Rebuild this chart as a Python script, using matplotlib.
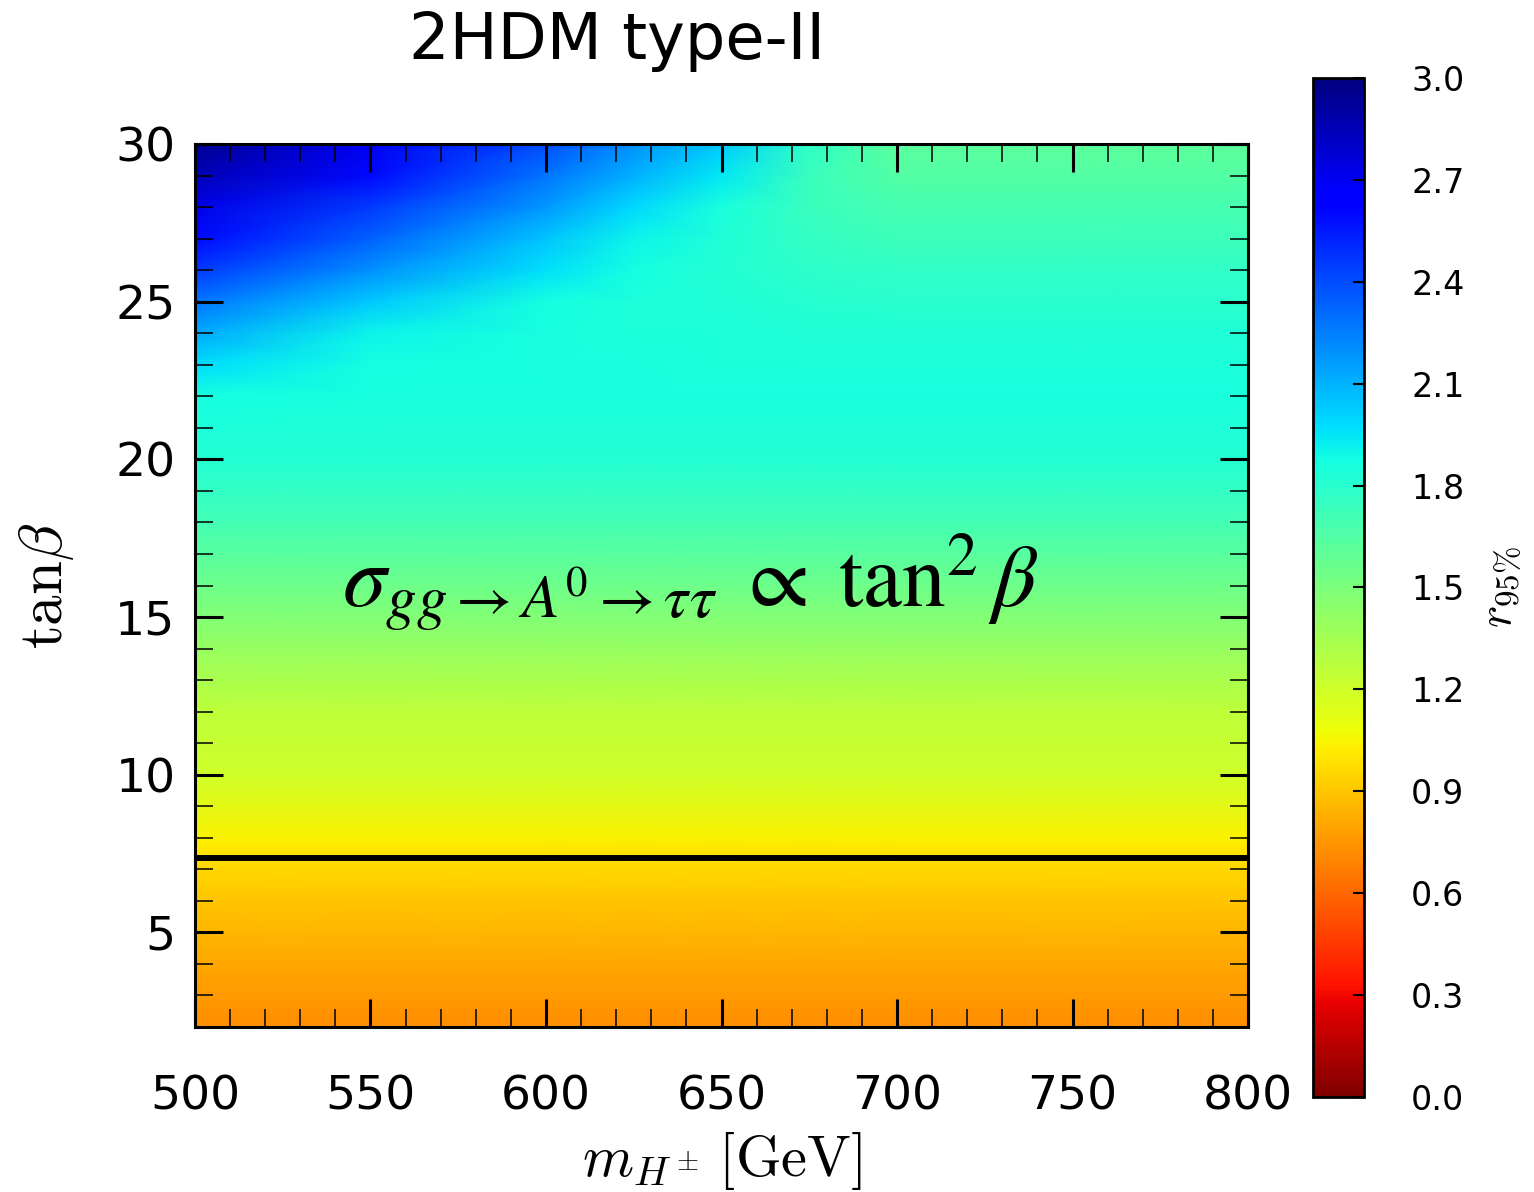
import numpy as np
import matplotlib
matplotlib.use("Agg")
import matplotlib.pyplot as plt

# grid: r_95% vs (m_H+-, tan beta)
mh_cols = [500, 550, 600, 625, 650, 675, 700, 800]
tanb_rows = [2, 4, 6, 7.35, 8, 10, 12, 14, 16, 18, 20,
             22, 23, 24, 25, 26, 27, 28, 29, 30]
r_low = [0.72, 0.80, 0.90, 0.98, 1.04, 1.20, 1.26, 1.40, 1.55, 1.70, 1.82]
r_high = [
    [1.87, 1.86, 1.86, 1.86, 1.86, 1.86, 1.86, 1.86],
    [1.98, 1.87, 1.86, 1.86, 1.85, 1.85, 1.85, 1.85],
    [2.13, 1.90, 1.86, 1.85, 1.84, 1.83, 1.83, 1.83],
    [2.28, 2.03, 1.87, 1.85, 1.83, 1.81, 1.80, 1.80],
    [2.45, 2.20, 1.96, 1.87, 1.82, 1.79, 1.77, 1.77],
    [2.60, 2.34, 2.05, 1.90, 1.83, 1.76, 1.73, 1.73],
    [2.73, 2.46, 2.17, 1.99, 1.86, 1.74, 1.69, 1.69],
    [2.85, 2.60, 2.28, 2.10, 1.94, 1.74, 1.65, 1.65],
    [2.95, 2.70, 2.40, 2.20, 2.03, 1.78, 1.62, 1.61],
]
limit_tanb = 7.35
cbar_ticks = [0.0, 0.3, 0.6, 0.9, 1.2, 1.5, 1.8, 2.1, 2.4, 2.7, 3.0]

Z = np.vstack([np.tile(np.array(r_low)[:, None], (1, len(mh_cols))),
               np.array(r_high)])
X, Y = np.meshgrid(mh_cols, tanb_rows)

fig = plt.figure(figsize=(15.34, 11.92), dpi=100)
ax = fig.add_axes([0.1271, 0.1384, 0.6865, 0.7408])
cax = fig.add_axes([0.8559, 0.0797, 0.0332, 0.8549])

mesh = ax.pcolormesh(X, Y, Z, cmap="jet_r", vmin=0, vmax=3, shading="gouraud")
ax.axhline(limit_tanb, color="black", lw=4.3)

ax.set_xlim(500, 800)
ax.set_ylim(2, 30)
ax.set_xticks(np.arange(500, 801, 50))
ax.set_xticks(np.arange(500, 801, 10), minor=True)
ax.set_yticks(np.arange(5, 31, 5))
ax.set_yticks(np.arange(2, 31, 1), minor=True)
ax.tick_params(which="both", direction="in", top=True, right=True)
ax.tick_params(which="major", length=20, width=2.2, labelsize=34)
ax.tick_params(axis="x", which="major", pad=34)
ax.tick_params(axis="y", which="major", pad=14)
ax.tick_params(which="minor", length=13, width=1.1)
for s in ax.spines.values():
    s.set_linewidth(2.2)

ax.set_xlabel(r"$m_{H^\pm}\,[\mathrm{GeV}]$", fontsize=42, math_fontfamily="cm", labelpad=8)
ax.set_ylabel(r"$\mathrm{tan}\beta$", fontsize=44, math_fontfamily="cm", labelpad=28)

ax.text(641, 15.3, r"$\sigma_{gg\rightarrow A^0\rightarrow\tau\tau}\;\propto\;\tan^2\beta$",
        fontsize=63, math_fontfamily="stix", ha="center", va="baseline")

fig.text(0.402, 0.966, "2HDM type-II", fontsize=46, ha="center", va="center")

cb = fig.colorbar(mesh, cax=cax, ticks=cbar_ticks)
cb.outline.set_linewidth(2)
cb.ax.tick_params(direction="in", length=8, width=1.5, labelsize=24, pad=34)
cb.ax.set_yticklabels([f"{t:.1f}" for t in cbar_ticks])
cb.set_label(r"$r_{95\%}$", fontsize=34, math_fontfamily="cm", labelpad=10)

fig.savefig("out.png", dpi=100)
